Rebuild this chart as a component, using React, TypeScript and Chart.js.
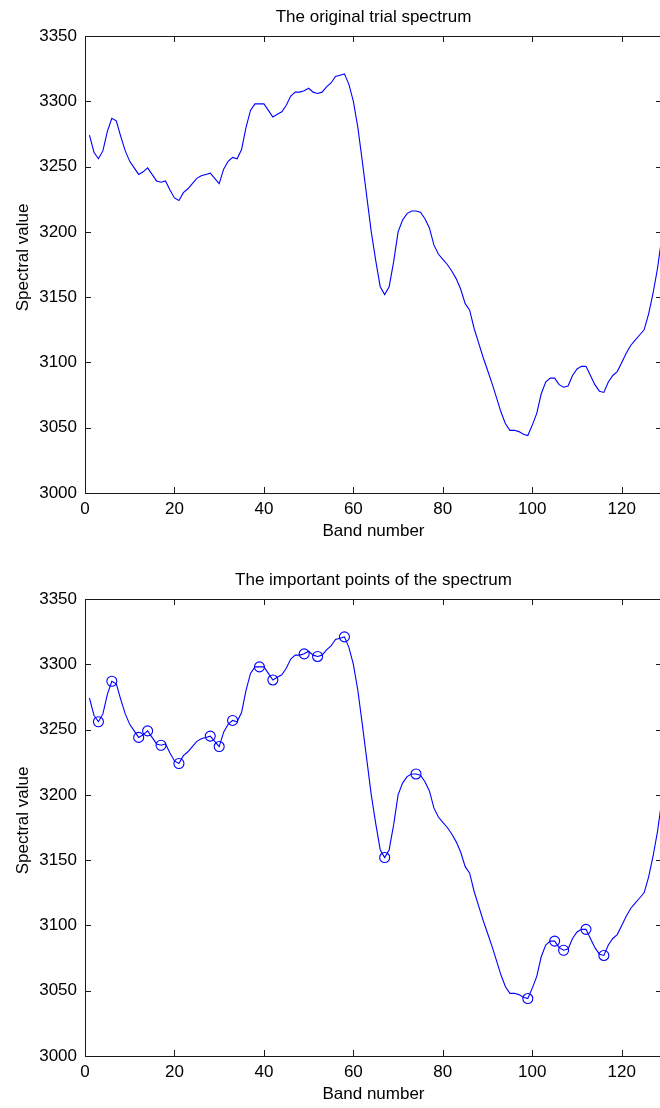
import React, { useEffect, useRef } from "react";
import { Chart, registerables } from "chart.js";

Chart.register(...registerables);

// Band numbers 1..129 (the x categories of the spectrum)
const bands: number[] = Array.from({ length: 129 }, (_, i) => i + 1);

// Spectral values, one per band
const spectrum: number[] = [
  3274, 3261, 3256, 3262, 3277, 3287, 3285, 3273, 3262, 3254,
  3249, 3244, 3246, 3249, 3244, 3239, 3238, 3239, 3232, 3226,
  3224, 3230, 3233, 3237, 3241, 3243, 3244, 3245, 3241, 3237,
  3248, 3254, 3257, 3256, 3263, 3280, 3293, 3298, 3298, 3298,
  3293, 3288, 3290, 3292, 3297, 3304, 3307, 3307, 3308, 3310,
  3307, 3306, 3307, 3311, 3314, 3319, 3320, 3321, 3313, 3300,
  3280, 3254, 3227, 3200, 3178, 3158, 3152, 3158, 3177, 3200,
  3209, 3214, 3216, 3216, 3215, 3210, 3203, 3190, 3183, 3179,
  3175, 3170, 3164, 3156, 3145, 3140, 3126, 3115, 3104, 3094,
  3084, 3073, 3062, 3053, 3048, 3048, 3047, 3045, 3044, 3052,
  3061, 3076, 3085, 3088, 3088, 3083, 3081, 3082, 3090, 3095,
  3097, 3097, 3090, 3083, 3078, 3077, 3085, 3090, 3093, 3100,
  3107, 3113, 3117, 3121, 3125, 3137, 3153, 3172, 3197,
];

// Bands marked as important points in the lower plot
const importantBands: number[] = [
  3, 6, 12, 14, 17, 21, 28, 30, 33, 39, 42, 49, 52, 58, 67, 74, 99, 105, 107, 112, 116,
];

const xTicks: number[] = [0, 20, 40, 60, 80, 100, 120];
const yTicks: number[] = [3000, 3050, 3100, 3150, 3200, 3250, 3300, 3350];

const X_MIN = 0;
const X_MAX = 129;
const Y_MIN = 3000;
const Y_MAX = 3350;

const BLUE = "#0000ff";
const FONT = "'Liberation Sans', Arial, sans-serif";

const boxPlugin = {
  id: "matlabBox",
  afterDraw(chart: any, _args: any, opts: any) {
    const { ctx, chartArea } = chart;
    const xs = chart.scales.x;
    const ys = chart.scales.y;
    const { left, right, top, bottom } = chartArea;
    const tl = 6;
    ctx.save();
    ctx.strokeStyle = "#1a1a1a";
    ctx.lineWidth = 1;
    ctx.beginPath();
    ctx.rect(Math.round(left) + 0.5, Math.round(top) + 0.5, Math.round(right - left), Math.round(bottom - top));
    for (const t of xTicks) {
      const px = Math.round(xs.getPixelForValue(t)) + 0.5;
      ctx.moveTo(px, bottom);
      ctx.lineTo(px, bottom - tl);
      ctx.moveTo(px, top);
      ctx.lineTo(px, top + tl);
    }
    for (const t of yTicks) {
      const py = Math.round(ys.getPixelForValue(t)) + 0.5;
      ctx.moveTo(left, py);
      ctx.lineTo(left + tl, py);
      ctx.moveTo(right, py);
      ctx.lineTo(right - tl, py);
    }
    ctx.stroke();
    // title centred over the axes box
    if (opts && opts.text) {
      ctx.fillStyle = "#000";
      ctx.font = "17px " + FONT;
      ctx.textAlign = "center";
      ctx.textBaseline = "middle";
      ctx.fillText(opts.text, (left + right) / 2, opts.y);
    }
    ctx.restore();
  },
};

function makeConfig(
  title: string,
  withMarkers: boolean,
  topPad: number,
  titleY: number,
  xHeight: number,
  xTitlePadBottom: number
): any {
  const lineData = bands.map((b, i) => ({ x: b, y: spectrum[i] }));
  const datasets: any[] = [
    {
      data: lineData,
      borderColor: BLUE,
      borderWidth: 1.1,
      pointRadius: 0,
      pointHoverRadius: 0,
      tension: 0,
      fill: false,
    },
  ];
  if (withMarkers) {
    datasets.push({
      data: importantBands.map((b) => ({ x: b, y: spectrum[bands.indexOf(b)] })),
      showLine: false,
      borderColor: BLUE,
      backgroundColor: "rgba(0,0,0,0)",
      pointStyle: "circle",
      pointRadius: 5,
      pointBorderWidth: 1.1,
      pointBorderColor: BLUE,
      pointBackgroundColor: "rgba(0,0,0,0)",
      pointHoverRadius: 5,
    });
  }
  return {
    type: "line",
    data: { datasets },
    plugins: [boxPlugin],
    options: {
      animation: false,
      responsive: false,
      maintainAspectRatio: false,
      events: [],
      layout: { padding: { left: 0, top: topPad, right: 18, bottom: 0 } },
      plugins: {
        legend: { display: false },
        tooltip: { enabled: false },
        title: { display: false },
        matlabBox: { text: title, y: titleY },
      },
      scales: {
        x: {
          type: "linear",
          min: X_MIN,
          max: X_MAX,
          afterBuildTicks: (s: any) => {
            s.ticks = xTicks.map((v) => ({ value: v }));
          },
          afterFit: (s: any) => {
            s.height = xHeight;
          },
          grid: { display: false, drawTicks: false },
          border: { display: false },
          ticks: {
            color: "#000",
            padding: 6,
            maxRotation: 0,
            autoSkip: false,
            font: { family: FONT, size: 17 },
            callback: (v: any) => String(v),
          },
          title: {
            display: true,
            text: "Band number",
            color: "#000",
            font: { family: FONT, size: 17 },
            padding: { top: 0, bottom: xTitlePadBottom },
          },
        },
        y: {
          type: "linear",
          min: Y_MIN,
          max: Y_MAX,
          afterBuildTicks: (s: any) => {
            s.ticks = yTicks.map((v) => ({ value: v }));
          },
          afterFit: (s: any) => {
            s.width = 85;
          },
          grid: { display: false, drawTicks: false },
          border: { display: false },
          ticks: {
            color: "#000",
            padding: 8,
            autoSkip: false,
            font: { family: FONT, size: 17 },
            callback: (v: any) => String(v),
          },
          title: {
            display: true,
            text: "   Spectral value",
            color: "#000",
            font: { family: FONT, size: 17 },
            padding: { top: 13.5, bottom: 0 },
          },
        },
      },
    },
  };
}

function Plot(props: {
  title: string;
  withMarkers: boolean;
  topPad: number;
  titleY: number;
  xHeight: number;
  xTitlePadBottom: number;
}) {
  const ref = useRef<HTMLCanvasElement | null>(null);
  useEffect(() => {
    if (!ref.current) return;
    const chart = new Chart(
      ref.current,
      makeConfig(props.title, props.withMarkers, props.topPad, props.titleY, props.xHeight, props.xTitlePadBottom)
    );
    return () => chart.destroy();
  }, []);
  return <canvas ref={ref} width={680} height={554} style={{ display: "block", width: 680, height: 554 }} />;
}

export default function App() {
  return (
    <div
      style={{
        position: "absolute",
        left: 0,
        top: 0,
        width: 660,
        height: 1108,
        overflow: "hidden",
        background: "#fff",
      }}
    >
      <Plot
        title="The original trial spectrum"
        withMarkers={false}
        topPad={36}
        titleY={17}
        xHeight={61}
        xTitlePadBottom={12.5}
      />
      <Plot
        title="The important points of the spectrum"
        withMarkers={true}
        topPad={45}
        titleY={26}
        xHeight={52}
        xTitlePadBottom={3.5}
      />
    </div>
  );
}
